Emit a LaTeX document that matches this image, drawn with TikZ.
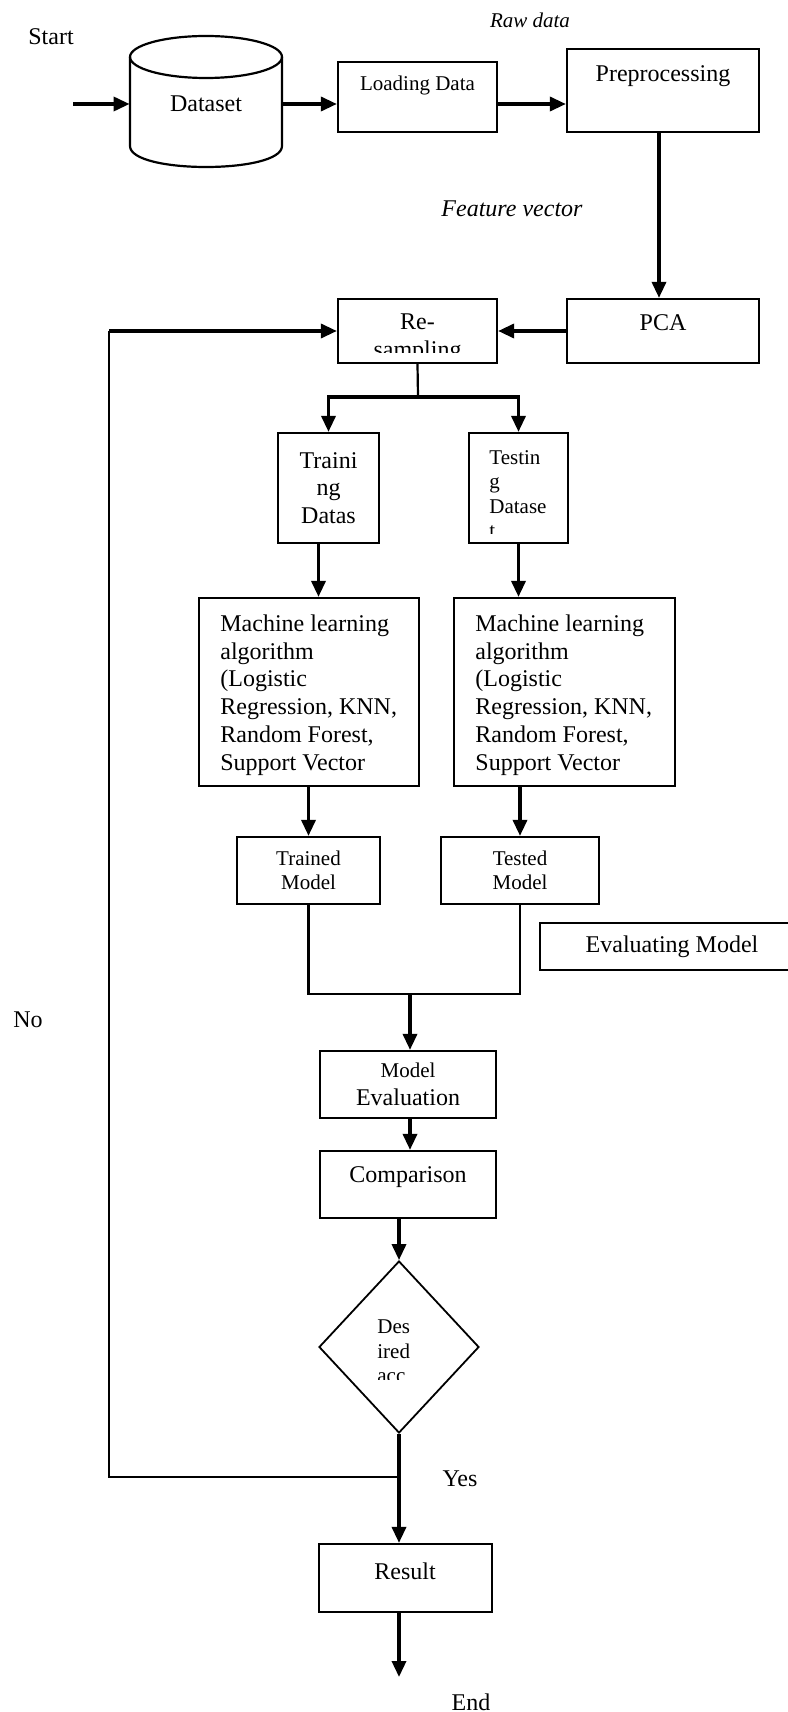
\documentclass[tikz,border=0pt]{standalone}
\usepackage{fontspec}
\setmainfont{Liberation Serif}
\usetikzlibrary{arrows.meta, shapes.geometric}
\newcommand{\bigtxt}{\fontsize{12}{13.75}\selectfont}
\newcommand{\smalltxt}{\fontsize{10.5}{12.25}\selectfont}
\newcommand{\mltxt}{\fontsize{12}{13.9}\selectfont}

\begin{document}
\begin{tikzpicture}[x=0.5pt, y=-0.5pt,
    box/.style={draw, line width=1.1pt, inner sep=0pt, font=\bigtxt},
    txt/.style={inner sep=0pt, font=\bigtxt},
    wire/.style={line width=1.1pt},
    arr/.style={line width=1.7pt, -{Triangle[length=8pt,width=7pt]}}]
    \useasboundingbox (0,0) rectangle (787,1712);

    % top row
    \node[txt] (start) at (51,37) {Start};
    \node[txt, font=\smalltxt\itshape] (raw) at (530,20) {Raw data};
    \draw[wire] (206,57) ellipse [x radius=76, y radius=21];
    \draw[wire] (130,57) -- (130,146) .. controls (130,174) and (282,174) .. (282,146) -- (282,57);
    \node[txt, minimum width=76pt] (data) at (206,104) {Dataset};
    \coordinate (startpt) at (73,104);
    \node[box, minimum width=79.5pt, minimum height=35pt] (load) at (417.5,97) {};
    \node[txt, font=\smalltxt] (load-t) at (417.5,85) {Loading Data};
    \node[box, minimum width=96pt, minimum height=41.5pt] (prep) at (663,90.5) {};
    \node[txt] (prep-t) at (663,76) {Preprocessing};
    \node[txt, font=\itshape\bigtxt] (feat) at (512,209) {Feature vector};

    % second row
    \node[box, minimum width=96pt, minimum height=32pt] (pca) at (663,331) {};
    \node[txt] (pca-t) at (663,323) {PCA};
    \node[box, minimum width=79.5pt, minimum height=32pt] (resamp) at (417.5,331) {};
    \begin{scope}
        \clip (338,299) rectangle (497,352);
        \node[txt, align=center] (resamp-t) at (417.5,338) {Re-\\sampling};
    \end{scope}

    % split
    \node[box, align=center, minimum width=50.5pt, minimum height=55pt] (train) at (328.5,488) {Traini\\ng\\Datas};
    \node[box, minimum width=49.5pt, minimum height=55pt] (test) at (518.5,488) {};
    \begin{scope}
        \clip (469,433) rectangle (568,533);
        \node[txt, font=\smalltxt, align=left, anchor=west] (test-t) at (489,494) {Testin\\g\\Datase\\t};
    \end{scope}

    \node[box, minimum width=110pt, minimum height=94pt] (mlL) at (309,692) {};
    \node[box, minimum width=110.5pt, minimum height=94pt] (mlR) at (564.5,692) {};
    \foreach \n/\x in {mlL/220, mlR/475}
        \node[txt, font=\mltxt, align=left, anchor=west] (\n-t) at (\x,695)
            {Machine learning\\algorithm\\(Logistic\\Regression, KNN,\\Random Forest,\\Support Vector};

    \node[box, font=\smalltxt, align=center, minimum width=71.5pt, minimum height=33.5pt] (trained) at (308.5,870.5) {Trained\\Model};
    \node[box, font=\smalltxt, align=center, minimum width=79pt, minimum height=33.5pt] (tested) at (520,870.5) {Tested\\Model};
    \node[box, minimum width=132pt, minimum height=23.5pt] (evalm) at (672,946.5) {Evaluating Model};

    % evaluation
    \node[box, align=center, minimum width=88pt, minimum height=33.5pt] (meval) at (408,1084.5) {{\smalltxt Model}\\Evaluation};
    \node[box, minimum width=88pt, minimum height=33.5pt] (comp) at (408,1184.5) {};
    \node[txt] (comp-t) at (408,1177) {Comparison};
    \node[draw, diamond, line width=0.9pt, inner sep=0pt, minimum width=80pt, minimum height=86pt] (dec) at (399,1347) {};
    \begin{scope}
        \clip (317,1261) rectangle (477,1379);
        \node[txt, font=\smalltxt, align=left, anchor=west] (dec-t) at (377,1351.5) {Des\\ired\\acc};
    \end{scope}
    \node[box, minimum width=86.5pt, minimum height=34pt] (result) at (405.5,1578) {};
    \node[txt] (result-t) at (405,1571) {Result};

    \node[txt] (no) at (28,1020) {No};
    \node[txt] (yes) at (460,1479) {Yes};
    \node[txt] (end) at (471,1702) {End};

    % connectors
    \draw[arr] (startpt) -- (data.west);
    \draw[arr] (data.east) -- (data.east -| load.west);
    \draw[arr] (load.east |- data) -- (prep.west |- data);
    \draw[arr] ([xshift=-2pt]prep.south) -- ([xshift=-2pt]pca.north);
    \draw[arr] (pca.west) -- (resamp.east);
    \coordinate (fork) at (418,397);
    \draw[wire] (resamp.south) -- (fork);
    \draw[arr] (fork) -| (train.north);
    \draw[arr] (fork) -| (test.north);
    \draw[arr] ([xshift=-5pt]train.south) -- ([xshift=-5pt]train.south |- mlL.north);
    \draw[arr] (test.south) -- (test.south |- mlR.north);
    \draw[arr] (trained.north |- mlL.south) -- (trained.north);
    \draw[arr] (tested.north |- mlR.south) -- (tested.north);
    \coordinate (merge) at (410,994);
    \draw[wire] (trained.south) |- (merge) -| (tested.south);
    \draw[arr] (merge) -- (merge |- meval.north);
    \draw[arr] (merge |- meval.south) -- (merge |- comp.north);
    \draw[arr] (dec.north |- comp.south) -- (dec.north);
    \draw[arr] (dec.south) -- (dec.south |- result.north);
    \coordinate (endpt) at (399,1677);
    \draw[arr] (dec.south |- result.south) -- (endpt);

    % loop back (No)
    \coordinate (nojoin) at (399,1477);
    \coordinate (nocorner) at (109,1477);
    \draw[wire] (nojoin) -- (nocorner) -- (nocorner |- resamp.west);
    \draw[arr] (nocorner |- resamp.west) -- (resamp.west);
\end{tikzpicture}
\end{document}
